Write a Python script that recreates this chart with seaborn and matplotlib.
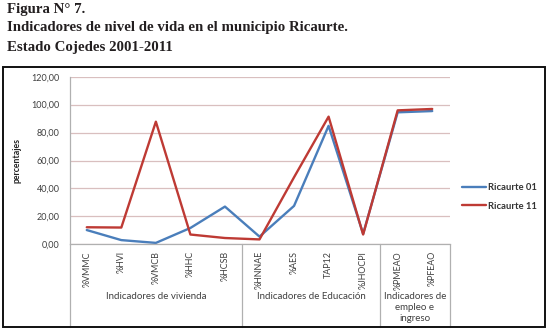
import matplotlib
matplotlib.use("Agg")
import matplotlib.pyplot as plt
import matplotlib.transforms as mtransforms
from matplotlib.patches import Rectangle
import seaborn as sns
import pandas as pd

# ---- data ----
categories = ["%VMMC", "%HVI", "%VMCB", "%HHC", "%HCSB",
              "%HNNAE", "%AES", "TAP12", "%JHOCPI",
              "%PMEAO", "%PFEAO"]
ricaurte_01 = [10.2, 3.0, 1.0, 11.7, 27.0, 5.5, 27.5, 84.8, 7.5, 94.5, 95.4]
ricaurte_11 = [12.2, 12.0, 87.8, 7.0, 4.5, 3.5, 48.0, 91.4, 7.0, 95.9, 96.9]
series_names = ["Ricaurte 01", "Ricaurte 11"]
groups = ["Indicadores de vivienda", "Indicadores de Educación",
          "Indicadores de\nempleo e\ningreso"]
group_sizes = [5, 4, 2]
y_ticks = [0, 20, 40, 60, 80, 100, 120]
title_lines = ["Figura N° 7.",
               "Indicadores de nivel de vida en el municipio Ricaurte.",
               "Estado Cojedes 2001-2011"]
y_label = "percentajes"

df = pd.DataFrame({
    "cat": categories * 2,
    "val": ricaurte_01 + ricaurte_11,
    "serie": [series_names[0]] * len(categories) + [series_names[1]] * len(categories),
})

# ---- figure ----
W, H = 548, 329
fig = plt.figure(figsize=(W / 100, H / 100), dpi=100)
sns.set_style("white")
plt.rcParams["font.family"] = ["Lato", "DejaVu Sans"]

def fx(px):
    return px / W

def fy(py):
    return 1 - py / H

# chart box
fig.add_artist(Rectangle((fx(3), fy(327)), fx(542), 260 / H,
                         transform=fig.transFigure, fill=False,
                         edgecolor="#111111", linewidth=1.4))

left, right, top, bottom = 69.5, 449.5, 76.7, 244.3
ax = fig.add_axes([fx(left), fy(bottom), (right - left) / W, (bottom - top) / H])

palette = {series_names[0]: "#4a7ebb", series_names[1]: "#be3a34"}
sns.lineplot(data=df, x="cat", y="val", hue="serie", palette=palette,
             sort=False, linewidth=1.7, ax=ax, legend=True)

ax.set_xlim(-0.5, len(categories) - 0.5)
ax.set_ylim(0, 120)
ax.set_yticks(y_ticks)
ax.set_yticklabels([f"{v:.2f}".replace(".", ",") for v in y_ticks],
                   fontsize=6.5, color="#404040")
ax.yaxis.grid(True, color="#d9bfbf", linewidth=0.9)
ax.xaxis.grid(False)
for s in ["top", "right"]:
    ax.spines[s].set_visible(False)
for s in ["left", "bottom"]:
    ax.spines[s].set_color("#b0b0b0")
    ax.spines[s].set_linewidth(0.9)
ax.tick_params(axis="y", length=0, pad=7)
ax.set_xticks(range(len(categories)))
ax.set_xticklabels(categories, rotation=90, fontsize=6.4, color="#404040", va="top")
ax.tick_params(axis="x", length=0, pad=5)
ax.set_xlabel("")
ax.set_ylabel(y_label, fontsize=6.3, fontweight="bold", color="#222222")
ax.yaxis.set_label_coords((22 - left) / (right - left), 0.5)
ax.set_facecolor("white")

# group dividers and labels
trans = mtransforms.blended_transform_factory(ax.transData, ax.transAxes)
ah = bottom - top
y_bot = (bottom - 327) / ah
bounds = [-0.5]
for g in group_sizes:
    bounds.append(bounds[-1] + g)
for b in bounds:
    ax.plot([b, b], [0, y_bot], transform=trans, color="#b0b0b0",
            linewidth=0.9, clip_on=False)
for i, g in enumerate(groups):
    cx = (bounds[i] + bounds[i + 1]) / 2
    ax.text(cx, (bottom - 292) / ah, g, transform=trans, ha="center", va="top",
            fontsize=7, color="#404040", linespacing=1.3)

# legend
leg = ax.legend(loc="center left", bbox_to_anchor=(fx(458), fy(197)),
                bbox_transform=fig.transFigure, frameon=False, fontsize=6.8,
                handlelength=2.6, handletextpad=0.2, labelspacing=1.0,
                borderaxespad=0)
for t in leg.get_texts():
    t.set_color("#333333")
    t.set_fontweight("bold")

# title
for i, line in enumerate(title_lines):
    fig.text(fx(7), fy(9 + 19 * i), line, ha="left", va="center",
             fontsize=10.7, fontweight="bold", color="#231f20",
             family=["Liberation Serif", "DejaVu Serif"])

fig.savefig("out.png", dpi=100)
